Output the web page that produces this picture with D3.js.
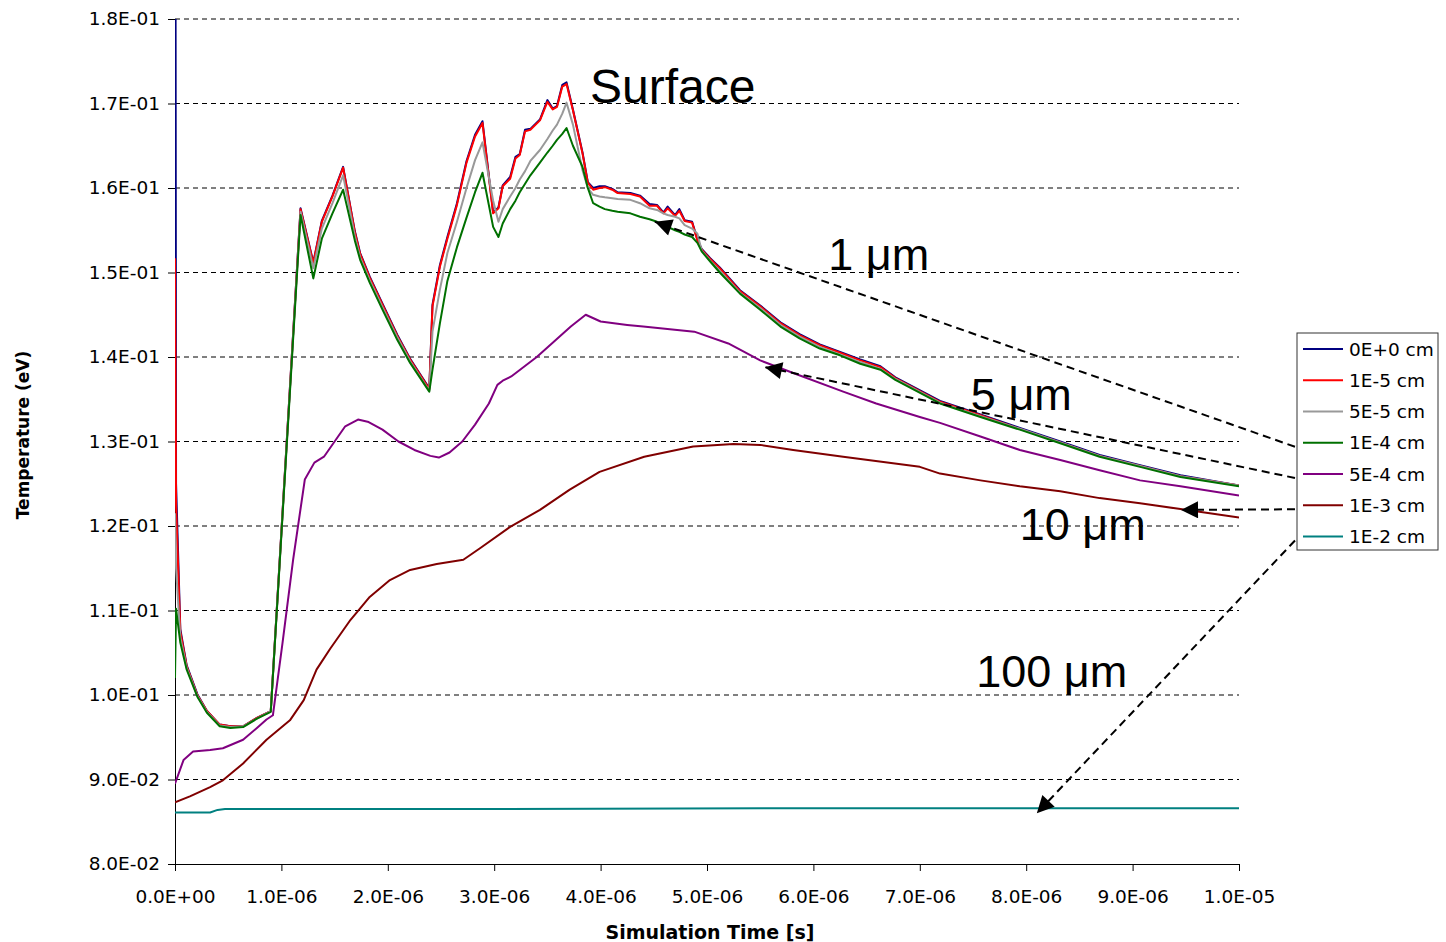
<!DOCTYPE html>
<html>
<head>
<meta charset="utf-8">
<script src="https://cdn.jsdelivr.net/npm/d3@7"></script>
<style>
  body { margin: 0; background: #fff; }
  svg { display: block; }
</style>
</head>
<body>
<div class="Chart"></div>
<script>
// series names + colours (legend order = draw order)
const seriesNames = ["0E+0 cm", "1E-5 cm", "5E-5 cm", "1E-4 cm", "5E-4 cm", "1E-3 cm", "1E-2 cm"];
const seriesColors = ["#000080", "#ff0000", "#999999", "#007000", "#800080", "#800000", "#008080"];

const xTicks = [0, 1e-6, 2e-6, 3e-6, 4e-6, 5e-6, 6e-6, 7e-6, 8e-6, 9e-6, 1e-5];
const yTicks = [0.08, 0.09, 0.10, 0.11, 0.12, 0.13, 0.14, 0.15, 0.16, 0.17, 0.18];

// time in microseconds for the four near-surface depths
const timeSurf = [
  0, 0.01, 0.05, 0.11, 0.21, 0.30, 0.42, 0.52, 0.64, 0.77,
  0.90, 1.18, 1.30, 1.38, 1.48, 1.58, 1.69, 1.74, 1.83, 1.95,
  2.09, 2.21, 2.39, 2.42, 2.49, 2.56, 2.65, 2.74, 2.82, 2.89,
  2.99, 3.04, 3.08, 3.15, 3.20, 3.24, 3.29, 3.34, 3.43, 3.50,
  3.55, 3.59, 3.64, 3.68, 3.74, 3.83, 3.88, 3.93, 3.99, 4.04,
  4.11, 4.16, 4.28, 4.37, 4.46, 4.53, 4.59, 4.63, 4.70, 4.74,
  4.79, 4.86, 4.91, 4.95, 5.03, 5.12, 5.31, 5.50, 5.69, 5.87,
  6.06, 6.25, 6.44, 6.63, 6.77, 7.19, 7.57, 7.94, 8.32, 8.69,
  9.07, 9.45, 10.0
];

const temp0 = [
  0.2500, 0.1250, 0.1078, 0.1035, 0.1001, 0.0981, 0.0965, 0.0963, 0.0963, 0.0973,
  0.0981, 0.1576, 0.1512, 0.1561, 0.1591, 0.1625, 0.1549, 0.1523, 0.1495, 0.1463,
  0.1426, 0.1398, 0.1363, 0.1462, 0.1509, 0.1542, 0.1582, 0.1632, 0.1663, 0.1679,
  0.1571, 0.1577, 0.1603, 0.1613, 0.1637, 0.1640, 0.1669, 0.1670, 0.1681, 0.1704,
  0.1694, 0.1697, 0.1722, 0.1725, 0.1693, 0.1642, 0.1607, 0.1600, 0.1602, 0.1602,
  0.1599, 0.1595, 0.1594, 0.1591, 0.1581, 0.1580, 0.1571, 0.1578, 0.1568, 0.1575,
  0.1562, 0.1560, 0.1539, 0.1528, 0.1517, 0.1506, 0.1479, 0.1461, 0.1441, 0.1427,
  0.1415, 0.1406, 0.1397, 0.1389, 0.1376, 0.1348, 0.1332, 0.1316, 0.1300, 0.1284,
  0.1272, 0.1260, 0.1248
];

const temp1e5 = [
  0.1517, 0.1225, 0.1075, 0.1034, 0.1000, 0.0981, 0.0965, 0.0963, 0.0963, 0.0973,
  0.0981, 0.1575, 0.1511, 0.1560, 0.1590, 0.1624, 0.1548, 0.1522, 0.1494, 0.1462,
  0.1425, 0.1397, 0.1362, 0.1460, 0.1507, 0.1540, 0.1580, 0.1630, 0.1661, 0.1677,
  0.1570, 0.1576, 0.1602, 0.1611, 0.1635, 0.1639, 0.1667, 0.1669, 0.1680, 0.1702,
  0.1693, 0.1696, 0.1720, 0.1723, 0.1692, 0.1641, 0.1606, 0.1598, 0.1600, 0.1601,
  0.1598, 0.1594, 0.1593, 0.1590, 0.1579, 0.1579, 0.1570, 0.1576, 0.1567, 0.1573,
  0.1561, 0.1559, 0.1538, 0.1527, 0.1516, 0.1505, 0.1478, 0.1460, 0.1440, 0.1426,
  0.1414, 0.1405, 0.1396, 0.1388, 0.1375, 0.1347, 0.1331, 0.1315, 0.1299, 0.1283,
  0.1271, 0.1259, 0.1248
];

const temp5e5 = [
  0.1215, 0.1150, 0.1068, 0.1032, 0.0999, 0.0980, 0.0964, 0.0962, 0.0963, 0.0972,
  0.0981, 0.1572, 0.1505, 0.1552, 0.1582, 0.1615, 0.1543, 0.1518, 0.1491, 0.1459,
  0.1423, 0.1395, 0.1360, 0.1430, 0.1480, 0.1523, 0.1560, 0.1600, 0.1633, 0.1654,
  0.1585, 0.1560, 0.1575, 0.1590, 0.1600, 0.1610, 0.1620, 0.1632, 0.1645, 0.1658,
  0.1668, 0.1675, 0.1688, 0.1701, 0.1675, 0.1621, 0.1600, 0.1592, 0.1590, 0.1589,
  0.1588, 0.1587, 0.1586, 0.1582, 0.1576, 0.1574, 0.1570, 0.1568, 0.1566, 0.1564,
  0.1556, 0.1552, 0.1546, 0.1526, 0.1514, 0.1502, 0.1476, 0.1458, 0.1438, 0.1424,
  0.1412, 0.1403, 0.1394, 0.1386, 0.1374, 0.1346, 0.1330, 0.1315, 0.1299, 0.1283,
  0.1271, 0.1259, 0.1248
];

const temp1e4 = [
  0.1020, 0.1102, 0.1062, 0.1030, 0.0998, 0.0979, 0.0963, 0.0961, 0.0962, 0.0972,
  0.0980, 0.1568, 0.1493, 0.1540, 0.1570, 0.1598, 0.1538, 0.1515, 0.1488, 0.1456,
  0.1420, 0.1393, 0.1359, 0.1385, 0.1440, 0.1490, 0.1530, 0.1565, 0.1595, 0.1618,
  0.1554, 0.1542, 0.1558, 0.1575, 0.1585, 0.1595, 0.1605, 0.1615, 0.1630, 0.1642,
  0.1650, 0.1657, 0.1664, 0.1671, 0.1650, 0.1625, 0.1600, 0.1582, 0.1578, 0.1575,
  0.1573, 0.1572, 0.1570, 0.1566, 0.1563, 0.1560, 0.1556, 0.1554, 0.1550, 0.1548,
  0.1545, 0.1542, 0.1535, 0.1525, 0.1513, 0.1500, 0.1475, 0.1456, 0.1436, 0.1422,
  0.1410, 0.1402, 0.1392, 0.1385, 0.1373, 0.1345, 0.1329, 0.1314, 0.1298, 0.1282,
  0.1270, 0.1258, 0.1247
];

// 5E-4 cm
const time5e4 = [
  0, 0.08, 0.17, 0.33, 0.45, 0.64, 0.77, 0.86, 0.92, 1.01,
  1.11, 1.22, 1.31, 1.40, 1.50, 1.60, 1.72, 1.82, 1.95, 2.10,
  2.25, 2.40, 2.48, 2.58, 2.70, 2.82, 2.95, 3.03, 3.08, 3.16,
  3.40, 3.72, 3.86, 4.00, 4.25, 4.40, 4.88, 5.20, 5.50, 5.81,
  6.28, 6.59, 7.00, 7.19, 7.57, 7.94, 8.32, 8.69, 9.07, 9.45,
  10.0
];
const temp5e4 = [
  0.0895, 0.0923, 0.0933, 0.0935, 0.0937, 0.0947, 0.0961, 0.0971, 0.0976, 0.1061,
  0.1160, 0.1255, 0.1275, 0.1282, 0.1300, 0.1318, 0.1326, 0.1323, 0.1314, 0.1300,
  0.1290, 0.1283, 0.1281, 0.1287, 0.1300, 0.1320, 0.1345, 0.1367, 0.1372, 0.1377,
  0.1400, 0.1436, 0.1450, 0.1442, 0.1438, 0.1436, 0.1430, 0.1416, 0.1396, 0.1381,
  0.1359, 0.1345, 0.1329, 0.1322, 0.1306, 0.1290, 0.1278, 0.1266, 0.1254, 0.1247,
  0.1236
];

// 1E-3 cm
const time1e3 = [
  0, 0.14, 0.33, 0.45, 0.64, 0.86, 1.08, 1.21, 1.33, 1.46,
  1.65, 1.83, 2.02, 2.21, 2.46, 2.71, 2.87, 3.15, 3.43, 3.71,
  3.99, 4.41, 4.87, 5.25, 5.50, 5.81, 6.28, 7.00, 7.19, 7.57,
  7.94, 8.32, 8.69, 9.07, 9.45, 10.0
];
const temp1e3 = [
  0.0873, 0.0880, 0.0891, 0.0899, 0.0919, 0.0947, 0.0970, 0.0994, 0.1030, 0.1055,
  0.1089, 0.1116, 0.1136, 0.1148, 0.1155, 0.1160, 0.1174, 0.1199, 0.1219, 0.1243,
  0.1264, 0.1282, 0.1294, 0.1297, 0.1296, 0.1290, 0.1282, 0.1270, 0.1262, 0.1254,
  0.1247, 0.1241, 0.1233, 0.1227, 0.1220, 0.1210
];

// 1E-2 cm
const time1e2 = [0, 0.33, 0.40, 0.47, 3.0, 6.0, 10.0];
const temp1e2 = [0.0861, 0.0861, 0.0864, 0.0865, 0.0865, 0.0866, 0.0866];

// annotation labels (anchor in data units: time us, temperature eV)
const noteTexts = ["Surface", "1 \u03bcm", "5 \u03bcm", "10 \u03bcm", "100 \u03bcm"];
const noteTimes = [3.90, 6.14, 7.48, 7.94, 7.53];
const noteTemps = [0.1701, 0.1503, 0.1337, 0.1183, 0.1009];

// arrows: legend row they start from, tip in data units
const arrowRows = [3, 4, 5, 6];
const arrowTimes = [4.51, 5.545, 9.455, 8.10];
const arrowTemps = [0.1560, 0.1388, 0.1219, 0.0860];

const series = [
  { times: timeSurf, temps: temp0 },
  { times: timeSurf, temps: temp1e5 },
  { times: timeSurf, temps: temp5e5 },
  { times: timeSurf, temps: temp1e4 },
  { times: time5e4, temps: temp5e4 },
  { times: time1e3, temps: temp1e3 },
  { times: time1e2, temps: temp1e2 }
].map((s, i) => ({
  name: seriesNames[i],
  color: seriesColors[i],
  points: s.times.map((t, j) => [t * 1e-6, s.temps[j]])
}));

// Excel style scientific format, e.g. 1.8E-01
function fmtE(v) {
  if (v === 0) return "0.0E+00";
  const parts = v.toExponential(1).split("e");
  const sign = parts[1][0] === "-" ? "-" : "+";
  const exp = parts[1].replace(/[+-]/, "").padStart(2, "0");
  return parts[0] + "E" + sign + exp;
}

const width = 1446, height = 942;
const margin = { top: 19, right: 207, bottom: 78, left: 175 };
const plotW = width - margin.left - margin.right;
const plotH = height - margin.top - margin.bottom;

const svg = d3.select(".Chart")
  .append("svg")
  .attr("width", width)
  .attr("height", height);

const x = d3.scaleLinear().domain([0, 1e-5]).range([margin.left, margin.left + plotW]);
const y = d3.scaleLinear().domain([0.08, 0.18]).range([margin.top + plotH, margin.top]);

svg.append("defs").append("clipPath")
  .attr("id", "plotClip")
  .append("rect")
  .attr("x", margin.left)
  .attr("y", margin.top)
  .attr("width", plotW)
  .attr("height", plotH);

// dashed horizontal gridlines
svg.append("g")
  .selectAll("line")
  .data(yTicks.slice(1))
  .enter()
  .append("line")
  .attr("x1", margin.left)
  .attr("x2", margin.left + plotW)
  .attr("y1", d => y(d))
  .attr("y2", d => y(d))
  .attr("stroke", "#000")
  .attr("stroke-width", 1)
  .attr("stroke-dasharray", "5,4");

// axes
const xAxis = svg.append("g")
  .attr("transform", `translate(0,${margin.top + plotH})`)
  .call(d3.axisBottom(x).tickValues(xTicks).tickFormat(fmtE).tickSize(7).tickSizeOuter(0).tickPadding(19));

const yAxis = svg.append("g")
  .attr("transform", `translate(${margin.left},0)`)
  .call(d3.axisLeft(y).tickValues(yTicks).tickFormat(fmtE).tickSize(7).tickSizeOuter(0).tickPadding(8));

[xAxis, yAxis].forEach(g => {
  g.selectAll("path, line").attr("stroke", "#000").attr("stroke-width", 1);
  g.selectAll("text")
    .attr("fill", "#000")
    .style("font-family", "'DejaVu Sans', sans-serif")
    .style("font-size", "18.5px");
});

// axis titles
svg.append("text")
  .attr("x", 710)
  .attr("y", 939)
  .attr("text-anchor", "middle")
  .style("font-family", "'DejaVu Sans', sans-serif")
  .style("font-weight", "bold")
  .style("font-size", "19px")
  .text("Simulation Time [s]");

svg.append("text")
  .attr("transform", "translate(29,435) rotate(-90)")
  .attr("text-anchor", "middle")
  .style("font-family", "'DejaVu Sans', sans-serif")
  .style("font-weight", "bold")
  .style("font-size", "17px")
  .text("Temperature (eV)");

// series lines
const line = d3.line()
  .x(d => x(d[0]))
  .y(d => y(d[1]));

svg.append("g")
  .attr("clip-path", "url(#plotClip)")
  .selectAll("path")
  .data(series)
  .enter()
  .append("path")
  .attr("d", d => line(d.points))
  .attr("fill", "none")
  .attr("stroke", d => d.color)
  .attr("stroke-width", 2)
  .attr("stroke-linejoin", "round");

// legend
const legendX = 1297, legendY = 333, rowStep = 31.25;
const legend = svg.append("g");
legend.append("rect")
  .attr("x", legendX)
  .attr("y", legendY)
  .attr("width", 141)
  .attr("height", 217)
  .attr("fill", "#fff")
  .attr("stroke", "#333")
  .attr("stroke-width", 1);

const rows = legend.selectAll("g.row")
  .data(series)
  .enter()
  .append("g")
  .attr("class", "row")
  .attr("transform", (d, i) => `translate(${legendX},${legendY + 16 + i * rowStep})`);

rows.append("line")
  .attr("x1", 6)
  .attr("x2", 46)
  .attr("stroke", d => d.color)
  .attr("stroke-width", 2);

rows.append("text")
  .attr("x", 52)
  .attr("dy", "0.36em")
  .style("font-family", "'DejaVu Sans', sans-serif")
  .style("font-size", "18.5px")
  .text(d => d.name);

// annotation arrows from legend rows to curves
svg.select("defs").append("marker")
  .attr("id", "head")
  .attr("viewBox", "0 0 10 10")
  .attr("refX", 10)
  .attr("refY", 5)
  .attr("markerWidth", 22)
  .attr("markerHeight", 17)
  .attr("markerUnits", "userSpaceOnUse")
  .attr("orient", "auto")
  .append("path")
  .attr("d", "M0,0 L10,5 L0,10 Z")
  .attr("fill", "#000");

svg.append("g")
  .selectAll("line")
  .data(arrowRows)
  .enter()
  .append("line")
  .attr("x1", legendX - 2)
  .attr("y1", r => legendY + 16 + r * rowStep + 4)
  .attr("x2", (r, i) => x(arrowTimes[i] * 1e-6))
  .attr("y2", (r, i) => y(arrowTemps[i]))
  .attr("stroke", "#000")
  .attr("stroke-width", 2)
  .attr("stroke-dasharray", "8,5")
  .attr("marker-end", "url(#head)");

// big labels
svg.append("g")
  .selectAll("text")
  .data(noteTexts)
  .enter()
  .append("text")
  .attr("x", (d, i) => x(noteTimes[i] * 1e-6))
  .attr("y", (d, i) => y(noteTemps[i]))
  .style("font-family", "'Liberation Sans', Arial, sans-serif")
  .style("font-size", (d, i) => i === 0 ? "48px" : "45px")
  .attr("fill", "#000")
  .text(d => d);
</script>
</body>
</html>
